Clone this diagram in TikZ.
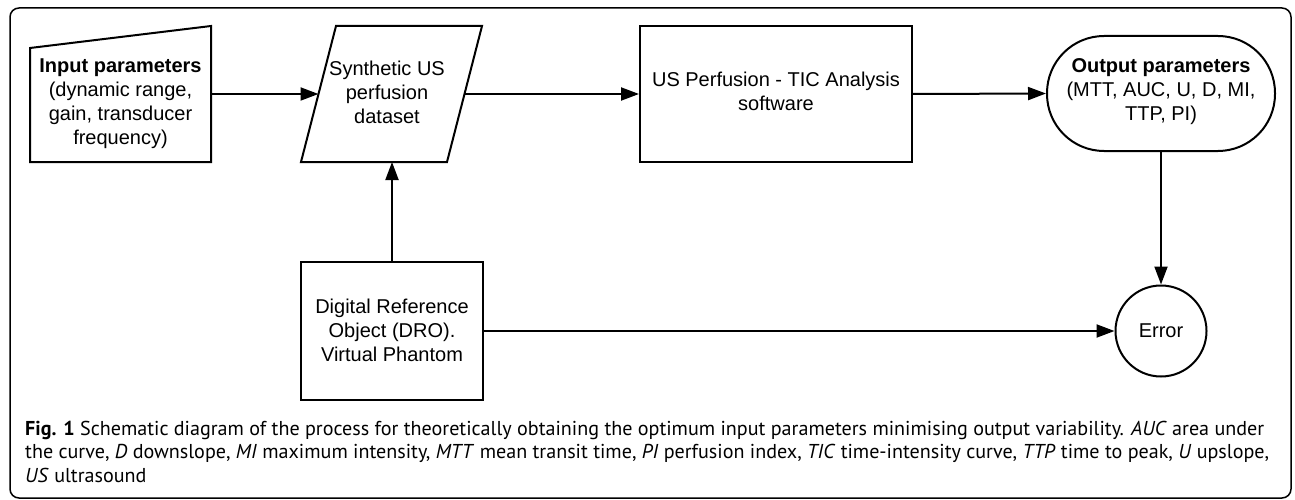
\documentclass[tikz,border=0pt]{standalone}
\usepackage{fontspec}
\setmainfont{Liberation Sans}
\newfontfamily\capfont{PT Sans}
\usetikzlibrary{arrows.meta}
\begin{document}
\begin{tikzpicture}[x=1pt,y=-1pt,
  shapeline/.style={line width=2pt, line join=miter},
  txt/.style={align=center, font=\fontsize{20}{24}\selectfont, inner sep=0pt},
  arr/.style={line width=2pt, -{Triangle[length=18pt,width=13pt]}},
  capline/.style={anchor=base west, inner sep=0pt, font=\capfont\fontsize{20.1}{24}\selectfont}
]
\useasboundingbox (0,0) rectangle (1295,500);
% frame
\draw[line width=1.5pt, rounded corners=9pt] (10,8) rectangle (1291,498);

% input parameters (manual input shape)
\draw[shapeline] (30,48) -- (211,26) -- (211,162) -- (30,162) -- cycle;
\node[txt] (inp) at (120.5,104) {\textbf{Input parameters}\\(dynamic range,\\gain, transducer\\frequency)};
\coordinate (inpR) at (211,94);

% synthetic dataset (parallelogram)
\draw[shapeline] (301,162) -- (336,26) -- (482,26) -- (447,162) -- cycle;
\node[txt] (syn) at (387,92) {Synthetic US\\perfusion\\dataset};
\coordinate (synL) at (318.5,94);
\coordinate (synR) at (464.5,94);
\coordinate (synB) at (392,162);

% analysis software
\node[draw, shapeline, minimum width=272pt, minimum height=136pt, inner sep=0pt] (sw) at (776,94) {};
\node[txt] (swt) at (776,91) {US Perfusion - TIC Analysis\\software};

% output parameters (stadium)
\node[draw, shapeline, minimum width=228pt, minimum height=115pt, rounded corners=57pt, inner sep=0pt] (out) at (1161,93.5) {};
\node[txt] (outt) at (1161,92) {\textbf{Output parameters}\\(MTT, AUC, U, D, MI,\\TTP, PI)};

% DRO
\node[draw, shapeline, minimum width=182pt, minimum height=138pt, inner sep=0pt] (dro) at (392,331) {};
\node[txt] (drot) at (392,330) {Digital Reference\\Object (DRO).\\Virtual Phantom};

% error
\node[draw, shapeline, circle, minimum size=91pt, inner sep=0pt, txt] (err) at (1161,331) {Error};

% connectors
\draw[arr] (inpR) -- (synL);
\draw[arr] (synR) -- (sw.west);
\draw[arr] (sw.east) -- (out.west);
\draw[arr] (out.south) -- (err.north);
\draw[arr] (dro.north) -- (synB);
\draw[arr] (dro.east) -- (err.west);

% caption
\node[capline] (c1) at (25,435) {\textbf{Fig. 1} Schematic diagram of the process for theoretically obtaining the optimum input parameters minimising output variability. \textit{AUC} area under};
\node[capline] (c2) at (25,458) {the curve, \textit{D} downslope, \textit{MI} maximum intensity, \textit{MTT} mean transit time, \textit{PI} perfusion index, \textit{TIC} time-intensity curve, \textit{TTP} time to peak, \textit{U} upslope,};
\node[capline] (c3) at (25,482) {\textit{US} ultrasound};
\end{tikzpicture}
\end{document}
